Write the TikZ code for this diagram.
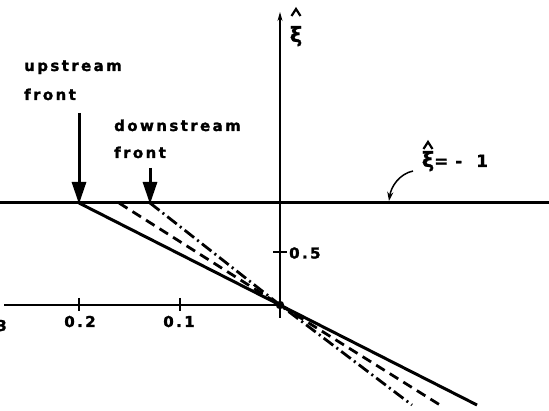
\documentclass[tikz,border=0pt]{standalone}
\usepackage{fontspec}
\newfontfamily\lblfont{DejaVu Sans Bold}[LetterSpace=16,FakeBold=1.6]
\newfontfamily\plainbold{DejaVu Sans Bold}[FakeBold=1.2]
\usetikzlibrary{arrows.meta}
\begin{document}
\begin{tikzpicture}[x=1pt,y=-1pt,
  lbl/.style={font=\lblfont\fontsize{15}{15}\selectfont, inner sep=0pt},
  greek/.style={font=\plainbold\fontsize{21}{21}\selectfont, inner sep=0pt, anchor=base},
  thickline/.style={line width=3pt},
  axis/.style={line width=1.1pt},
  tick/.style={line width=2.2pt},
  frontarrow/.style={line width=3pt, -{Triangle[length=22pt,width=14pt]}, shorten >=-1pt},
  dashedline/.style={line width=2.8pt, dash pattern=on 10pt off 6pt},
  dashdotline/.style={line width=2.8pt, dash pattern=on 12pt off 4pt on 2pt off 4pt},
  hatstyle/.style={line width=2.2pt, line join=miter}]
\useasboundingbox (0,0) rectangle (549,411);
% coordinates
\coordinate (L) at (0,203);
\coordinate (R) at (549,203);
\coordinate (O) at (280,305);
\coordinate (AxL) at (4,305);
\coordinate (AxB) at (280,318);
\coordinate (AxT) at (280,12);
\coordinate (U) at (79,203);
\coordinate (Ds) at (119,203);
\coordinate (D) at (150,203);
\coordinate (Send) at (477,405);
\coordinate (DEnd) at (440,405);
\coordinate (DDEnd) at (412,405);
\coordinate (Utop) at (79,113);
\coordinate (Dtop) at (150,168);
% axes
\draw[axis] (AxL) -- (O);
\draw[axis,-{Stealth[length=9pt,width=5pt]}] (AxB) -- (AxT);
% ticks
\draw[tick] (79,298) -- (79,311);
\draw[tick] (180,298) -- (180,311);
\draw[tick] (273,252) -- (287,252);
% tick labels
\node[lbl,anchor=base] (t2) at (80,327) {0.2};
\node[lbl,anchor=base] (t1) at (179,327) {0.1};
\node[font=\plainbold\fontsize{15}{15}\selectfont, inner sep=0pt, anchor=base east] (t3) at (7,331) {0.3};
\node[lbl,anchor=west] (t5) at (289,253) {0.5};
% xi = -1 line
\draw[thickline] (L) -- (R);
% three lines
\draw[thickline] (U) -- (O) -- (Send);
\draw[dashedline] (Ds) -- (O) -- (DEnd);
\draw[dashdotline] (D) -- (O) -- (DDEnd);
\fill (O) circle (4.2pt);
% fronts
\draw[frontarrow] (Utop) -- (U);
\draw[frontarrow] (Dtop) -- (D);
\node[lbl,anchor=base west] (up1) at (24,71) {upstream};
\node[lbl,anchor=base west] (up2) at (24,100) {front};
\node[lbl,anchor=base west] (dn1) at (114,131) {downstream};
\node[lbl,anchor=base west] (dn2) at (114,158) {front};
% axis label xi hat
\node[greek] (xi) at (296,42) {ξ};
\draw[hatstyle] (291.5,16) -- (296,9) -- (300.5,16);
% xi = -1 label
\node[greek] (xi2) at (428,167) {ξ};
\draw[hatstyle] (423.5,149) -- (428,142) -- (432.5,149);
\node[font=\plainbold\fontsize{17}{17}\selectfont, inner sep=0pt, anchor=base west] (eq) at (434,167) {\makebox[21pt][l]{=}\makebox[21pt][l]{-}1};
\coordinate (arrS) at (413,171);
\coordinate (arrE) at (389,201);
\draw[line width=1.5pt,-{Stealth[length=9pt,width=6pt]}] (arrS) .. controls (399,174) and (391,187) .. (arrE);
\end{tikzpicture}
\end{document}
